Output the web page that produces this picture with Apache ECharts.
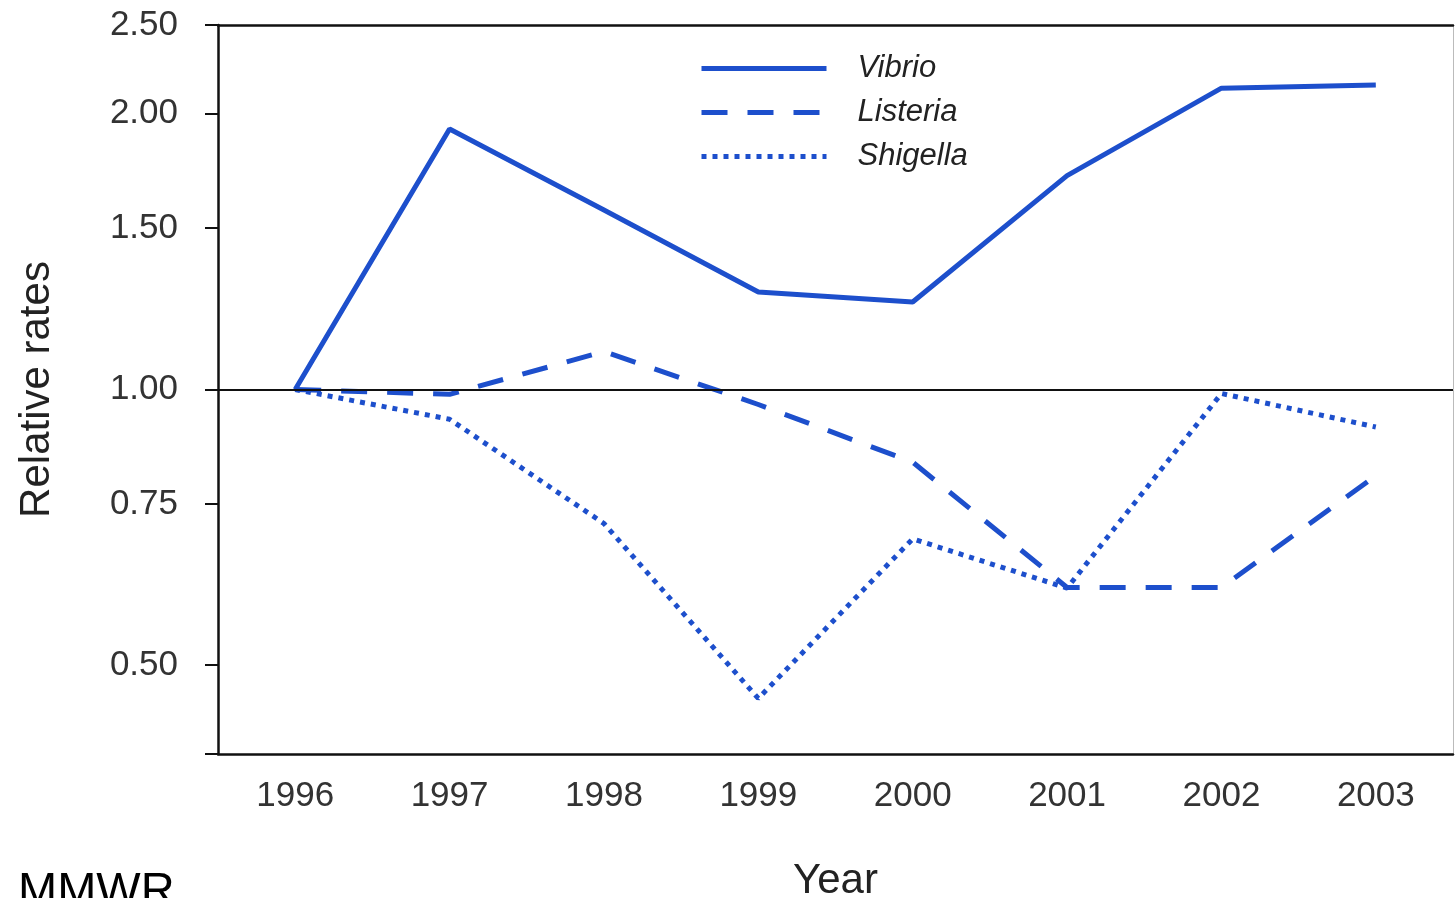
<!DOCTYPE html>
<html>
<head>
<meta charset="utf-8">
<title>Relative rates</title>
<script src="https://cdn.jsdelivr.net/npm/echarts@6/dist/echarts.min.js"></script>
<style>
	html,body{margin:0;padding:0;background:#fff;}
	#chart{width:1455px;height:898px;}
</style>
</head>
<body>
<div id="chart"></div>
<script>
// 数据
var years=['1996','1997','1998','1999','2000','2001','2002','2003'];
var vibrio=[1.00,1.925,1.57,1.278,1.246,1.712,2.133,2.15];
var listeria=[1.00,0.988,1.10,0.963,0.833,0.608,0.608,0.805];
var shigella=[1.00,0.928,0.714,0.46,0.687,0.607,0.99,0.91];
var yTicks=[0.4,0.5,0.75,1,1.5,2,2.5];//刻度线
var yLabels=[0.5,0.75,1,1.5,2,2.5];//刻度字

var blue='#1d4fcc';
var font='Liberation Sans';

var chart=echarts.init(document.getElementById('chart'));
var option={
	backgroundColor:'#fff',
	animation:false,
	textStyle:{fontFamily:font},
	grid:{
		left:218,
		right:2,
		top:25,
		bottom:144,
		containLabel:false,
		outerBoundsMode:'none'
	},
	legend:{
		orient:'vertical',
		left:694,
		top:48,
		itemWidth:125,
		itemHeight:30,
		itemGap:13,
		itemStyle:{color:'transparent',borderWidth:0,opacity:0},
		lineStyle:{width:5},
		textStyle:{
			fontSize:31,
			fontStyle:'italic',
			color:'#222',
			padding:[0,0,0,26]
		},
		data:['Vibrio','Listeria','Shigella']
	},
	xAxis:[{
		type:'category',
		data:years,
		boundaryGap:true,
		name:'Year',
		nameLocation:'middle',
		nameGap:106,
		nameTextStyle:{fontSize:42,color:'#222'},
		axisLine:{lineStyle:{color:'#111',width:2.5}},
		axisTick:{alignWithLabel:true,length:10,lineStyle:{color:'#111',width:2}},
		axisLabel:{fontSize:35,color:'#333',margin:25}
	},{
		type:'category',
		data:years,
		position:'top',
		axisLine:{lineStyle:{color:'#111',width:2.5}},
		axisTick:{show:false},
		axisLabel:{show:false}
	}],
	yAxis:[{
		type:'log',
		logBase:10,
		min:0.4,
		max:2.5,
		name:'Relative rates',
		nameLocation:'middle',
		nameGap:160,
		nameTextStyle:{fontSize:42,color:'#222'},
		axisLine:{show:true,lineStyle:{color:'#111',width:2.5}},
		axisTick:{show:true,length:13,customValues:yTicks,lineStyle:{color:'#111',width:2}},
		axisLabel:{
			fontSize:35,
			color:'#333',
			margin:40,
			customValues:yLabels,
			formatter:function(v){return Number(v).toFixed(2);}
		},
		splitLine:{show:false}
	},{
		type:'log',
		logBase:10,
		min:0.4,
		max:2.5,
		position:'right',
		axisLine:{show:true,lineStyle:{color:'#bbb',width:1}},
		axisTick:{show:false},
		axisLabel:{show:false},
		splitLine:{show:false}
	}],
	series:[{
		name:'Vibrio',
		type:'line',
		data:vibrio,
		symbol:'none',
		itemStyle:{color:blue},
		lineStyle:{color:blue,width:5,type:'solid'},
		markLine:{
			silent:true,
			symbol:'none',
			label:{show:false},
			lineStyle:{color:'#111',width:2,type:'solid'},
			data:[{yAxis:1}]
		},
		z:3
	},{
		name:'Listeria',
		type:'line',
		data:listeria,
		symbol:'none',
		itemStyle:{color:blue},
		lineStyle:{color:blue,width:5,type:[26,20]},
		z:3
	},{
		name:'Shigella',
		type:'line',
		data:shigella,
		symbol:'none',
		itemStyle:{color:blue},
		lineStyle:{color:blue,width:5,type:[5,6]},
		z:3
	}],
	graphic:[{
		type:'text',
		left:18,
		top:869,
		style:{text:'MMWR',fontSize:47,fill:'#000',fontFamily:font}
	}]
};
chart.setOption(option);
</script>
</body>
</html>
